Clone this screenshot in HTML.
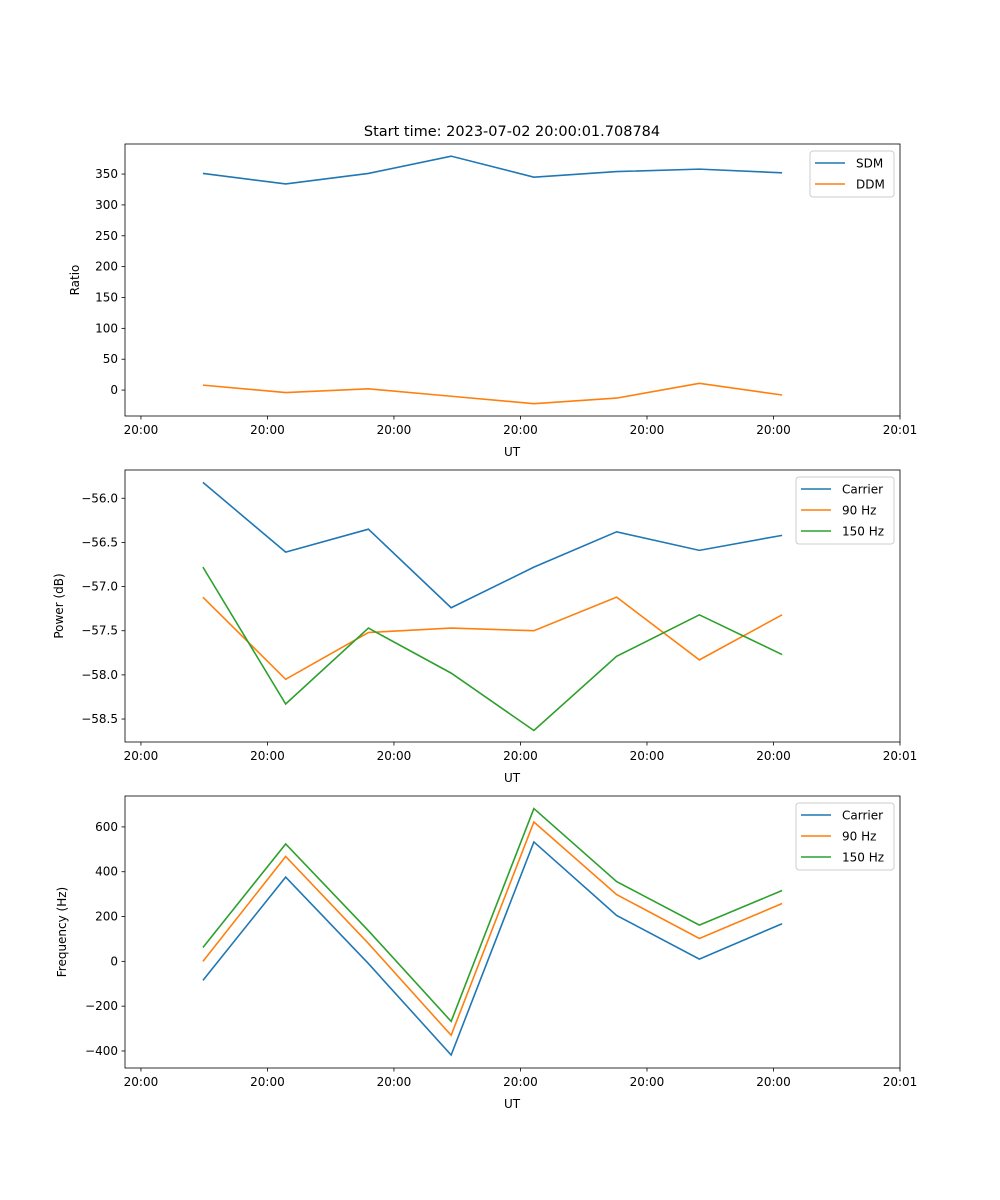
<!DOCTYPE html>
<html><head><meta charset="utf-8"><style>
body{margin:0;background:#fff}
svg{display:block;font-family:"DejaVu Sans","Liberation Sans",sans-serif}
</style></head><body>
<svg id="fig" width="1000" height="1200" viewBox="0 0 1000 1200">
<rect width="1000" height="1200" fill="#fff"/>
<text x="512" y="136" font-size="14.5" text-anchor="middle">Start time: 2023-07-02 20:00:01.708784</text>
</svg>
<script>
// shared x data (seconds after 20:00:00)
const times = [4.9, 11.44, 17.98, 24.52, 31.06, 37.6, 44.14, 50.68];
const xTicks = [0, 10, 20, 30, 40, 50, 60];
const xTickLabels = ["20:00","20:00","20:00","20:00","20:00","20:00","20:01"];
// panel 1
const sdm = [351, 334, 351, 379, 345, 354, 358, 352];
const ddm = [8, -4, 2, -10, -22, -13, 11, -8];
const ratioTicks = [0, 50, 100, 150, 200, 250, 300, 350];
// panel 2
const powCarrier = [-55.82, -56.61, -56.35, -57.24, -56.78, -56.38, -56.59, -56.42];
const pow90 = [-57.12, -58.05, -57.52, -57.47, -57.50, -57.12, -57.83, -57.32];
const pow150 = [-56.78, -58.33, -57.47, -57.98, -58.63, -57.79, -57.32, -57.77];
const powTicks = [-56.0, -56.5, -57.0, -57.5, -58.0, -58.5];
// panel 3
const freqCarrier = [-85, 376, -10, -418, 533, 205, 10, 168];
const freq90 = [0, 468, 80, -330, 622, 298, 102, 258];
const freq150 = [62, 524, 137, -268, 682, 356, 162, 316];
const freqTicks = [-400, -200, 0, 200, 400, 600];

const NS = "http://www.w3.org/2000/svg";
const svg = document.getElementById('fig');
function mk(tag, attrs, parent){const e=document.createElementNS(NS,tag);for(const k in attrs)e.setAttribute(k,attrs[k]);(parent||svg).appendChild(e);return e;}
const X0=125,X1=900,xmin=-1.26,xmax=60;
const xs=v=>X0+(v-xmin)/(xmax-xmin)*(X1-X0);
const colors=["#1f77b4","#ff7f0e","#2ca02c"];

function panel(name,top,ymin,ymax,ticks,fmt,ylabel,series,labels,legW,ylabX){
  const bot=top+272;
  const ys=v=>bot-(v-ymin)/(ymax-ymin)*272;
  const g=mk('g',{});
  
  
  series.forEach((s,i)=>{
    const p=mk('polyline',{points:s.map((v,j)=>xs(times[j])+','+ys(v)).join(' '),fill:'none',stroke:colors[i],'stroke-width':1.6},g);
    
    
  });
  const fr=mk('rect',{x:X0,y:top,width:X1-X0,height:272,fill:'none',stroke:'#000','stroke-width':0.8},g);
  
  
  ticks.forEach(t=>{
    const y=ys(t);
    mk('line',{x1:X0-3.5,x2:X0,y1:y,y2:y,stroke:'#000','stroke-width':0.8},g);
    const tx=mk('text',{x:X0-7,y:y+4,'font-size':12,'text-anchor':'end'},g);
    tx.textContent=fmt(t);
    
    
  });
  xTicks.forEach((t,i)=>{
    const x=xs(t);
    mk('line',{x1:x,x2:x,y1:bot,y2:bot+3.5,stroke:'#000','stroke-width':0.8},g);
    const tx=mk('text',{x:x,y:bot+18,'font-size':12,'text-anchor':'middle'},g);
    tx.textContent=xTickLabels[i];
    
    
  });
  const xl=mk('text',{x:512,y:bot+40,'font-size':12,'text-anchor':'middle'},g);
  xl.textContent='UT';
  
  
  const yl=mk('text',{x:ylabX,y:top+136,'font-size':12,'text-anchor':'middle',transform:`rotate(-90 ${ylabX} ${top+136})`},g);
  yl.textContent=ylabel;
  
  
  // legend
  const lx=X1-6-legW, ly=top+7, lh=4+labels.length*21;
  const lg=mk('g',{},g);
  
  
  mk('rect',{x:lx,y:ly,width:legW,height:lh,rx:3,fill:'#fff','fill-opacity':0.8,stroke:'#ccc','stroke-width':1},lg);
  labels.forEach((l,i)=>{
    const yy=ly+12+i*21;
    mk('line',{x1:lx+5,x2:lx+35,y1:yy,y2:yy,stroke:colors[i],'stroke-width':1.6},lg);
    const t=mk('text',{x:lx+46,y:yy+4.5,'font-size':12},lg);
    t.textContent=l;
    
    
  });
}
panel('ratio-panel',144,-42,398.7,ratioTicks,v=>String(v),'Ratio',[sdm,ddm],['SDM','DDM'],84,79);
panel('power-panel',470,-58.76,-55.68,powTicks,v=>v.toFixed(1).replace('-','\u2212'),'Power (dB)',[powCarrier,pow90,pow150],['Carrier','90 Hz','150 Hz'],98,63);
panel('frequency-panel',796,-476,738,freqTicks,v=>String(v).replace('-','\u2212'),'Frequency (Hz)',[freqCarrier,freq90,freq150],['Carrier','90 Hz','150 Hz'],98,66);
</script>
</body></html>
